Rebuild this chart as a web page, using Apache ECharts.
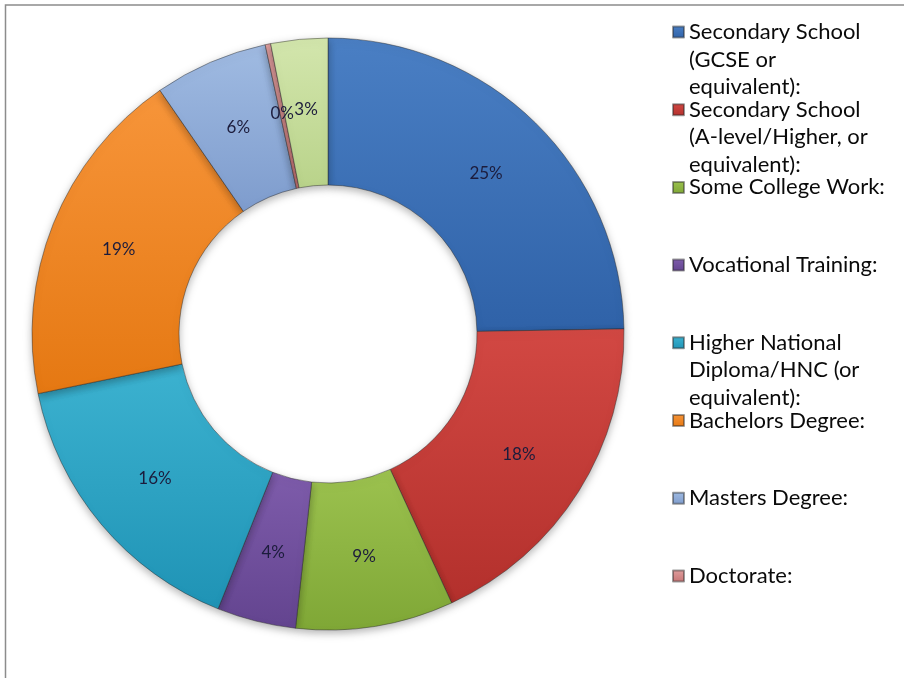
<!DOCTYPE html>
<html>
<head>
<meta charset="utf-8">
<script src="https://cdn.jsdelivr.net/npm/echarts@6/dist/echarts.min.js"></script>
<style>
  html, body { margin: 0; padding: 0; background: #fff; }
  #chart { width: 904px; height: 678px; }
</style>
</head>
<body>
<div id="chart"></div>
<script>
    // categories as shown in the legend (the 9th slice has no visible legend entry)
    var categories = [
        'Secondary School (GCSE or equivalent):',
        'Secondary School (A-level/Higher, or equivalent):',
        'Some College Work:',
        'Vocational Training:',
        'Higher National Diploma/HNC (or equivalent):',
        'Bachelors Degree:',
        'Masters Degree:',
        'Doctorate:',
        'Other:'
    ];
    // legend text, wrapped the way the reference wraps it
    var legendLabels = [
        'Secondary School\n(GCSE or\nequivalent):',
        'Secondary School\n(A-level/Higher, or\nequivalent):',
        'Some College Work:',
        'Vocational Training:',
        'Higher National\nDiploma/HNC (or\nequivalent):',
        'Bachelors Degree:',
        'Masters Degree:',
        'Doctorate:'
    ];
    // share of respondents (%)
    var shares = [24.7, 18.4, 8.6, 4.3, 15.7, 18.6, 6.2, 0.3, 3.1];

    var colors = [
        ['#4a7fc4', '#2f62a8'],
        ['#d24843', '#b3302c'],
        ['#9cc24f', '#7fa736'],
        ['#7e5cab', '#63448f'],
        ['#3cb2d0', '#1f93b5'],
        ['#f7953a', '#e57812'],
        ['#a0bbe2', '#7e9ccd'],
        ['#e0a0a0', '#c77474'],
        ['#d3e6ad', '#b9d38a']
    ];

    var myChart = echarts.init(document.getElementById('chart'));

    var data = shares.map(function (v, i) {
        return {
            name: categories[i],
            value: v,
            itemStyle: {
                color: new echarts.graphic.LinearGradient(0, 0, 0, 1, [
                    {offset: 0, color: colors[i][0]},
                    {offset: 1, color: colors[i][1]}
                ])
            }
        };
    });

    // one legend block per item so the overlapping wrapped lines sit like the reference;
    // blank lines in front keep the icon beside the first text line
    var LH = 27.5;
    var legends = legendLabels.map(function (lbl, i) {
        var n = lbl.split('\n').length;
        var text = lbl;
        for (var k = 1; k < n; k++) text = '\n' + text;
        var total = (2 * n - 1) * LH;
        var cy = 32 + i * 77.7;
        return {
            show: true,
            left: 672,
            top: cy - total / 2,
            padding: 0,
            itemWidth: 11,
            itemHeight: 11,
            itemGap: 0,
            icon: 'rect',
            selectedMode: false,
            data: [categories[i]],
            formatter: function () { return text; },
            textStyle: {
                fontFamily: 'Lato',
                fontSize: 22,
                lineHeight: LH,
                color: '#0a0a0a'
            }
        };
    });

    var option = {
        animation: false,
        graphic: [{
            type: 'rect',
            shape: {x: 5.5, y: 5, width: 940, height: 720},
            style: {fill: 'none', stroke: '#8c8c8c', lineWidth: 1.5}
        }],
        legend: legends,
        series: [{
            type: 'pie',
            center: [328, 334],
            radius: [149, 296],
            startAngle: 90,
            clockwise: true,
            percentPrecision: 0,
            avoidLabelOverlap: false,
            itemStyle: {
                borderColor: 'rgba(40,40,40,0.45)',
                borderWidth: 1,
                shadowBlur: 8,
                shadowOffsetY: 3,
                shadowColor: 'rgba(0,0,0,0.3)'
            },
            label: {
                position: 'inside',
                formatter: '{d}%',
                fontFamily: 'Lato',
                fontSize: 17,
                color: '#1c1c3c'
            },
            labelLine: {show: false},
            emphasis: {disabled: true},
            data: data
        }]
    };

    myChart.setOption(option);
</script>
</body>
</html>
